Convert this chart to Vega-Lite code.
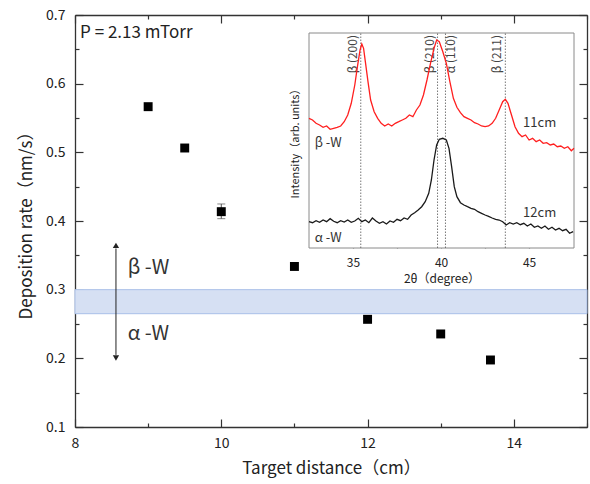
{
  "$schema": "https://vega.github.io/schema/vega-lite/v6.json",
  "width": 512,
  "height": 412,
  "autosize": "none",
  "padding": {"left": 75, "top": 15, "right": 3, "bottom": 57},
  "background": "white",
  "config": {
    "view": {"stroke": null},
    "font": "Noto Sans CJK JP",
    "axis": {"grid": false, "domainColor": "#333", "domainWidth": 1.3, "tickColor": "#333", "tickWidth": 1.2, "labelColor": "#222", "titleColor": "#222", "labelFont": "Noto Sans CJK JP", "titleFont": "Noto Sans CJK JP", "titleFontWeight": "normal"}
  },
  "resolve": {"scale": {"x": "independent", "y": "independent"}, "axis": {"x": "independent", "y": "independent"}},
  "datasets": {
    "points": [
      {"d": 9, "r": 0.5665},
      {"d": 9.5, "r": 0.5063},
      {"d": 10, "r": 0.4136},
      {"d": 11, "r": 0.3338},
      {"d": 12, "r": 0.2568},
      {"d": 13, "r": 0.2355},
      {"d": 13.68, "r": 0.1976}
    ],
    "xrd": [
      {"s": "11cm", "x": 32.5, "y": 129.7}, {"s": "11cm", "x": 32.7, "y": 128}, {"s": "11cm", "x": 32.9, "y": 124.7}, {"s": "11cm", "x": 33.1, "y": 123}, {"s": "11cm", "x": 33.3, "y": 120.7}, {"s": "11cm", "x": 33.5, "y": 122}, {"s": "11cm", "x": 33.7, "y": 118.7}, {"s": "11cm", "x": 33.9, "y": 119.7}, {"s": "11cm", "x": 34.1, "y": 120.7}, {"s": "11cm", "x": 34.3, "y": 122}, {"s": "11cm", "x": 34.5, "y": 126.3}, {"s": "11cm", "x": 34.7, "y": 133}, {"s": "11cm", "x": 34.9, "y": 144.7}, {"s": "11cm", "x": 35.1, "y": 163}, {"s": "11cm", "x": 35.25, "y": 181.3}, {"s": "11cm", "x": 35.4, "y": 198}, {"s": "11cm", "x": 35.5, "y": 204}, {"s": "11cm", "x": 35.6, "y": 199.7}, {"s": "11cm", "x": 35.7, "y": 186.3}, {"s": "11cm", "x": 35.85, "y": 166.3}, {"s": "11cm", "x": 36.0, "y": 148}, {"s": "11cm", "x": 36.2, "y": 136.3}, {"s": "11cm", "x": 36.4, "y": 129.7}, {"s": "11cm", "x": 36.6, "y": 124.7}, {"s": "11cm", "x": 36.8, "y": 122}, {"s": "11cm", "x": 37.0, "y": 124}, {"s": "11cm", "x": 37.2, "y": 122}, {"s": "11cm", "x": 37.4, "y": 124.7}, {"s": "11cm", "x": 37.6, "y": 126.3}, {"s": "11cm", "x": 37.8, "y": 128}, {"s": "11cm", "x": 38.0, "y": 129.7}, {"s": "11cm", "x": 38.2, "y": 133}, {"s": "11cm", "x": 38.4, "y": 131.3}, {"s": "11cm", "x": 38.6, "y": 138}, {"s": "11cm", "x": 38.8, "y": 143}, {"s": "11cm", "x": 39.0, "y": 153}, {"s": "11cm", "x": 39.2, "y": 168}, {"s": "11cm", "x": 39.4, "y": 184.7}, {"s": "11cm", "x": 39.6, "y": 199.7}, {"s": "11cm", "x": 39.75, "y": 208}, {"s": "11cm", "x": 39.9, "y": 206.3}, {"s": "11cm", "x": 40.1, "y": 196.3}, {"s": "11cm", "x": 40.3, "y": 184.7}, {"s": "11cm", "x": 40.5, "y": 166.3}, {"s": "11cm", "x": 40.7, "y": 149.7}, {"s": "11cm", "x": 40.9, "y": 140.7}, {"s": "11cm", "x": 41.1, "y": 135.3}, {"s": "11cm", "x": 41.3, "y": 131.3}, {"s": "11cm", "x": 41.5, "y": 129.7}, {"s": "11cm", "x": 41.7, "y": 128}, {"s": "11cm", "x": 41.9, "y": 125.3}, {"s": "11cm", "x": 42.1, "y": 124}, {"s": "11cm", "x": 42.3, "y": 122}, {"s": "11cm", "x": 42.5, "y": 121.3}, {"s": "11cm", "x": 42.7, "y": 122}, {"s": "11cm", "x": 42.9, "y": 124.7}, {"s": "11cm", "x": 43.1, "y": 129.7}, {"s": "11cm", "x": 43.3, "y": 138}, {"s": "11cm", "x": 43.5, "y": 146.3}, {"s": "11cm", "x": 43.65, "y": 148.7}, {"s": "11cm", "x": 43.8, "y": 144.7}, {"s": "11cm", "x": 44.0, "y": 133}, {"s": "11cm", "x": 44.2, "y": 121.3}, {"s": "11cm", "x": 44.4, "y": 114.7}, {"s": "11cm", "x": 44.6, "y": 111.3}, {"s": "11cm", "x": 44.8, "y": 113}, {"s": "11cm", "x": 45.0, "y": 108}, {"s": "11cm", "x": 45.2, "y": 109.7}, {"s": "11cm", "x": 45.4, "y": 106.3}, {"s": "11cm", "x": 45.6, "y": 108}, {"s": "11cm", "x": 45.8, "y": 104.7}, {"s": "11cm", "x": 46.0, "y": 105.3}, {"s": "11cm", "x": 46.2, "y": 103}, {"s": "11cm", "x": 46.4, "y": 104}, {"s": "11cm", "x": 46.6, "y": 101.3}, {"s": "11cm", "x": 46.8, "y": 102}, {"s": "11cm", "x": 47.0, "y": 99.7}, {"s": "11cm", "x": 47.2, "y": 101.3}, {"s": "11cm", "x": 47.4, "y": 97.3}, {"s": "11cm", "x": 47.55, "y": 99.7},
      {"s": "12cm", "x": 32.5, "y": 26.3}, {"s": "12cm", "x": 32.7, "y": 25.3}, {"s": "12cm", "x": 32.9, "y": 27.3}, {"s": "12cm", "x": 33.1, "y": 25.7}, {"s": "12cm", "x": 33.3, "y": 28}, {"s": "12cm", "x": 33.5, "y": 26.3}, {"s": "12cm", "x": 33.7, "y": 29.3}, {"s": "12cm", "x": 33.9, "y": 26.7}, {"s": "12cm", "x": 34.1, "y": 25.3}, {"s": "12cm", "x": 34.3, "y": 27.3}, {"s": "12cm", "x": 34.5, "y": 26}, {"s": "12cm", "x": 34.7, "y": 28}, {"s": "12cm", "x": 34.9, "y": 25.7}, {"s": "12cm", "x": 35.1, "y": 27}, {"s": "12cm", "x": 35.3, "y": 29.7}, {"s": "12cm", "x": 35.5, "y": 26.3}, {"s": "12cm", "x": 35.7, "y": 28}, {"s": "12cm", "x": 35.9, "y": 25.3}, {"s": "12cm", "x": 36.1, "y": 30}, {"s": "12cm", "x": 36.3, "y": 27}, {"s": "12cm", "x": 36.5, "y": 24.7}, {"s": "12cm", "x": 36.7, "y": 26.3}, {"s": "12cm", "x": 36.9, "y": 24}, {"s": "12cm", "x": 37.1, "y": 27}, {"s": "12cm", "x": 37.3, "y": 25.7}, {"s": "12cm", "x": 37.5, "y": 28.7}, {"s": "12cm", "x": 37.7, "y": 27.3}, {"s": "12cm", "x": 37.9, "y": 30}, {"s": "12cm", "x": 38.1, "y": 28.7}, {"s": "12cm", "x": 38.3, "y": 33}, {"s": "12cm", "x": 38.5, "y": 35.3}, {"s": "12cm", "x": 38.7, "y": 38}, {"s": "12cm", "x": 38.9, "y": 41.3}, {"s": "12cm", "x": 39.1, "y": 46.3}, {"s": "12cm", "x": 39.3, "y": 54.7}, {"s": "12cm", "x": 39.45, "y": 68}, {"s": "12cm", "x": 39.6, "y": 88}, {"s": "12cm", "x": 39.75, "y": 103}, {"s": "12cm", "x": 39.9, "y": 108.7}, {"s": "12cm", "x": 40.1, "y": 109.7}, {"s": "12cm", "x": 40.3, "y": 108}, {"s": "12cm", "x": 40.45, "y": 99.7}, {"s": "12cm", "x": 40.6, "y": 81.3}, {"s": "12cm", "x": 40.75, "y": 61.3}, {"s": "12cm", "x": 40.9, "y": 51.3}, {"s": "12cm", "x": 41.1, "y": 45.3}, {"s": "12cm", "x": 41.3, "y": 43}, {"s": "12cm", "x": 41.5, "y": 41.3}, {"s": "12cm", "x": 41.7, "y": 39.7}, {"s": "12cm", "x": 41.9, "y": 38.7}, {"s": "12cm", "x": 42.1, "y": 36.3}, {"s": "12cm", "x": 42.3, "y": 34.7}, {"s": "12cm", "x": 42.5, "y": 33}, {"s": "12cm", "x": 42.7, "y": 31.7}, {"s": "12cm", "x": 42.9, "y": 30}, {"s": "12cm", "x": 43.1, "y": 28.7}, {"s": "12cm", "x": 43.3, "y": 28}, {"s": "12cm", "x": 43.5, "y": 26.3}, {"s": "12cm", "x": 43.7, "y": 23}, {"s": "12cm", "x": 43.9, "y": 25.3}, {"s": "12cm", "x": 44.1, "y": 24}, {"s": "12cm", "x": 44.3, "y": 25.3}, {"s": "12cm", "x": 44.5, "y": 23.3}, {"s": "12cm", "x": 44.7, "y": 24.7}, {"s": "12cm", "x": 44.9, "y": 22}, {"s": "12cm", "x": 45.1, "y": 24}, {"s": "12cm", "x": 45.3, "y": 20.7}, {"s": "12cm", "x": 45.5, "y": 22}, {"s": "12cm", "x": 45.7, "y": 19.7}, {"s": "12cm", "x": 45.9, "y": 22}, {"s": "12cm", "x": 46.1, "y": 18.7}, {"s": "12cm", "x": 46.3, "y": 20.7}, {"s": "12cm", "x": 46.5, "y": 18}, {"s": "12cm", "x": 46.7, "y": 19.7}, {"s": "12cm", "x": 46.9, "y": 17.3}, {"s": "12cm", "x": 47.1, "y": 18.7}, {"s": "12cm", "x": 47.3, "y": 14.7}, {"s": "12cm", "x": 47.5, "y": 16.3}
    ],
    "peaks": [
      {"x": 35.44, "label": "β (200)", "side": "L"},
      {"x": 39.8, "label": "β (210)", "side": "L"},
      {"x": 40.25, "label": "α (110)", "side": "R"},
      {"x": 43.65, "label": "β (211)", "side": "L"}
    ]
  },
  "layer": [
    {
      "data": {"values": [{"lo": 0.265, "hi": 0.30}]},
      "mark": {"type": "rect", "fill": "#d6e0f3", "stroke": "#a9bfe8", "strokeWidth": 1},
      "encoding": {
        "y": {"field": "lo", "type": "quantitative", "scale": {"domain": [0.1, 0.7], "nice": false, "zero": false}, "axis": null},
        "y2": {"field": "hi"}
      }
    },
    {
      "data": {"values": [{"x": 8.56, "a": 0.205, "b": 0.36}]},
      "mark": {"type": "rule", "color": "#222", "strokeWidth": 1},
      "encoding": {
        "x": {"field": "x", "type": "quantitative", "scale": {"domain": [8, 15], "nice": false, "zero": false}, "axis": null},
        "y": {"field": "a", "type": "quantitative", "scale": {"domain": [0.1, 0.7], "nice": false, "zero": false}, "axis": null},
        "y2": {"field": "b"}
      }
    },
    {
      "data": {"values": [{"x": 8.56, "y": 0.3645, "dir": "up"}, {"x": 8.56, "y": 0.2005, "dir": "down"}]},
      "mark": {"type": "point", "filled": true, "size": 40, "color": "#222", "opacity": 1},
      "encoding": {
        "x": {"field": "x", "type": "quantitative", "scale": {"domain": [8, 15], "nice": false, "zero": false}, "axis": null},
        "y": {"field": "y", "type": "quantitative", "scale": {"domain": [0.1, 0.7], "nice": false, "zero": false}, "axis": null},
        "shape": {"field": "dir", "type": "nominal", "scale": {"domain": ["up", "down"], "range": ["triangle-up", "triangle-down"]}, "legend": null}
      }
    },
    {
      "data": {"values": [{"x": 8.72, "y": 0.3316, "t": "β -W"}, {"x": 8.72, "y": 0.2355, "t": "α -W"}]},
      "mark": {"type": "text", "align": "left", "baseline": "middle", "fontSize": 20, "color": "#333"},
      "encoding": {
        "x": {"field": "x", "type": "quantitative", "scale": {"domain": [8, 15], "nice": false, "zero": false}, "axis": null},
        "y": {"field": "y", "type": "quantitative", "scale": {"domain": [0.1, 0.7], "nice": false, "zero": false}, "axis": null},
        "text": {"field": "t"}
      }
    },
    {
      "data": {"values": [{"x": 10, "lo": 0.4034, "hi": 0.4248}]},
      "mark": {"type": "rule", "color": "#555", "strokeWidth": 1},
      "encoding": {
        "x": {"field": "x", "type": "quantitative", "scale": {"domain": [8, 15], "nice": false, "zero": false},
          "axis": {"orient": "top", "values": [8, 9, 10, 11, 12, 13, 14, 15], "labels": false, "title": null, "tickSize": {"condition": {"test": "datum.value % 2 === 0", "value": -8}, "value": -4}}},
        "y": {"field": "lo", "type": "quantitative", "scale": {"domain": [0.1, 0.7], "nice": false, "zero": false},
          "axis": {"orient": "right", "values": [0.1, 0.15, 0.2, 0.25, 0.3, 0.35, 0.4, 0.45, 0.5, 0.55, 0.6, 0.65, 0.7], "labels": false, "title": null, "tickSize": {"condition": {"test": "abs(datum.value*10 - round(datum.value*10)) < 0.01", "value": -8}, "value": -4}}},
        "y2": {"field": "hi"}
      }
    },
    {
      "data": {"values": [{"x": 10, "y": 0.4034}, {"x": 10, "y": 0.4248}]},
      "mark": {"type": "tick", "orient": "horizontal", "size": 8, "thickness": 1, "color": "#555"},
      "encoding": {
        "x": {"field": "x", "type": "quantitative", "scale": {"domain": [8, 15], "nice": false, "zero": false}, "axis": null},
        "y": {"field": "y", "type": "quantitative", "scale": {"domain": [0.1, 0.7], "nice": false, "zero": false}, "axis": null}
      }
    },
    {
      "data": {"name": "points"},
      "mark": {"type": "square", "size": 80, "color": "#000", "opacity": 1},
      "encoding": {
        "x": {"field": "d", "type": "quantitative", "scale": {"domain": [8, 15], "nice": false, "zero": false},
          "axis": {"orient": "bottom", "values": [8, 9, 10, 11, 12, 13, 14, 15], "labelExpr": "datum.value % 2 === 0 && datum.value < 15 ? datum.label : ''", "labelFontSize": 14, "labelPadding": 17, "labelFlush": false, "tickSize": {"condition": {"test": "datum.value % 2 === 0", "value": -8}, "value": -4}, "title": "Target distance（cm）", "titleFontSize": 17, "titlePadding": 10}},
        "y": {"field": "r", "type": "quantitative", "scale": {"domain": [0.1, 0.7], "nice": false, "zero": false},
          "axis": {"orient": "left", "values": [0.1, 0.15, 0.2, 0.25, 0.3, 0.35, 0.4, 0.45, 0.5, 0.55, 0.6, 0.65, 0.7], "labelExpr": "abs(datum.value*10 - round(datum.value*10)) < 0.01 ? format(datum.value, '.1f') : ''", "labelFontSize": 14, "labelPadding": 18, "labelFlush": false, "tickSize": {"condition": {"test": "abs(datum.value*10 - round(datum.value*10)) < 0.01", "value": -8}, "value": -4}, "title": "Deposition rate（nm/s）", "titleFontSize": 17, "titlePadding": 10}}
      }
    },
    {
      "data": {"values": [{"x": 8.07, "y": 0.674, "t": "P = 2.13 mTorr"}]},
      "mark": {"type": "text", "align": "left", "baseline": "middle", "fontSize": 17, "color": "#222"},
      "encoding": {
        "x": {"field": "x", "type": "quantitative", "scale": {"domain": [8, 15], "nice": false, "zero": false}, "axis": null},
        "y": {"field": "y", "type": "quantitative", "scale": {"domain": [0.1, 0.7], "nice": false, "zero": false}, "axis": null},
        "text": {"field": "t"}
      }
    },
    {
      "data": {"values": [{"x1": 32.5, "x2": 47.55, "y1": 0, "y2": 215}]},
      "mark": {"type": "rect", "fill": "white", "stroke": "#8a8a8a", "strokeWidth": 1},
      "encoding": {
        "x": {"field": "x1", "type": "quantitative", "scale": {"domain": [32.5, 47.55], "range": [234, 499], "nice": false, "zero": false}, "axis": null},
        "x2": {"field": "x2"},
        "y": {"field": "y1", "type": "quantitative", "scale": {"domain": [0, 215], "range": [233, 18], "nice": false, "zero": false}, "axis": null},
        "y2": {"field": "y2"}
      }
    },
    {
      "data": {"name": "peaks"},
      "mark": {"type": "rule", "color": "#555", "strokeWidth": 0.8, "strokeDash": [1.5, 1.5]},
      "encoding": {
        "x": {"field": "x", "type": "quantitative", "scale": {"domain": [32.5, 47.55], "range": [234, 499], "nice": false, "zero": false}, "axis": null},
        "y": {"datum": 0, "type": "quantitative", "scale": {"domain": [0, 215], "range": [233, 18], "nice": false, "zero": false}, "axis": null},
        "y2": {"datum": 215}
      }
    },
    {
      "data": {"name": "peaks"},
      "transform": [{"filter": "datum.side === 'L'"}],
      "mark": {"type": "text", "angle": 270, "align": "right", "baseline": "bottom", "fontSize": 12, "color": "#444", "dy": -1},
      "encoding": {
        "x": {"field": "x", "type": "quantitative", "scale": {"domain": [32.5, 47.55], "range": [234, 499], "nice": false, "zero": false}, "axis": null},
        "y": {"datum": 213, "type": "quantitative", "scale": {"domain": [0, 215], "range": [233, 18], "nice": false, "zero": false}, "axis": null},
        "text": {"field": "label"}
      }
    },
    {
      "data": {"name": "peaks"},
      "transform": [{"filter": "datum.side === 'R'"}],
      "mark": {"type": "text", "angle": 270, "align": "right", "baseline": "top", "fontSize": 12, "color": "#444", "dy": 1},
      "encoding": {
        "x": {"field": "x", "type": "quantitative", "scale": {"domain": [32.5, 47.55], "range": [234, 499], "nice": false, "zero": false}, "axis": null},
        "y": {"datum": 213, "type": "quantitative", "scale": {"domain": [0, 215], "range": [233, 18], "nice": false, "zero": false}, "axis": null},
        "text": {"field": "label"}
      }
    },
    {
      "data": {"name": "xrd"},
      "mark": {"type": "line", "strokeWidth": 1.3},
      "encoding": {
        "x": {"field": "x", "type": "quantitative", "scale": {"domain": [32.5, 47.55], "range": [234, 499], "nice": false, "zero": false},
          "axis": {"orient": "bottom", "offset": -179, "values": [35, 37.5, 40, 42.5, 45], "labelExpr": "datum.value % 5 === 0 ? datum.label : ''", "domain": false, "tickColor": "#777", "tickSize": -4, "labelFontSize": 12, "labelPadding": 13, "labelFlush": false, "title": "2θ（degree）", "titleFontSize": 12, "titlePadding": 5}},
        "y": {"field": "y", "type": "quantitative", "scale": {"domain": [0, 215], "range": [233, 18], "nice": false, "zero": false},
          "axis": {"orient": "left", "offset": -234, "domain": false, "ticks": false, "labels": false, "title": "Intensity（arb. units）", "titleFontSize": 11, "titlePadding": 9}},
        "color": {"field": "s", "type": "nominal", "scale": {"domain": ["11cm", "12cm"], "range": ["#ff1f1f", "#1a1a1a"]}, "legend": null}
      }
    },
    {
      "data": {"values": [{"x": 44.66, "y": 124.7, "t": "11cm"}, {"x": 44.66, "y": 35.3, "t": "12cm"}, {"x": 32.82, "y": 105.3, "t": "β -W"}, {"x": 32.82, "y": 9.7, "t": "α -W"}]},
      "mark": {"type": "text", "align": "left", "baseline": "middle", "fontSize": 13, "color": "#333"},
      "encoding": {
        "x": {"field": "x", "type": "quantitative", "scale": {"domain": [32.5, 47.55], "range": [234, 499], "nice": false, "zero": false}, "axis": null},
        "y": {"field": "y", "type": "quantitative", "scale": {"domain": [0, 215], "range": [233, 18], "nice": false, "zero": false}, "axis": null},
        "text": {"field": "t"}
      }
    }
  ]
}
